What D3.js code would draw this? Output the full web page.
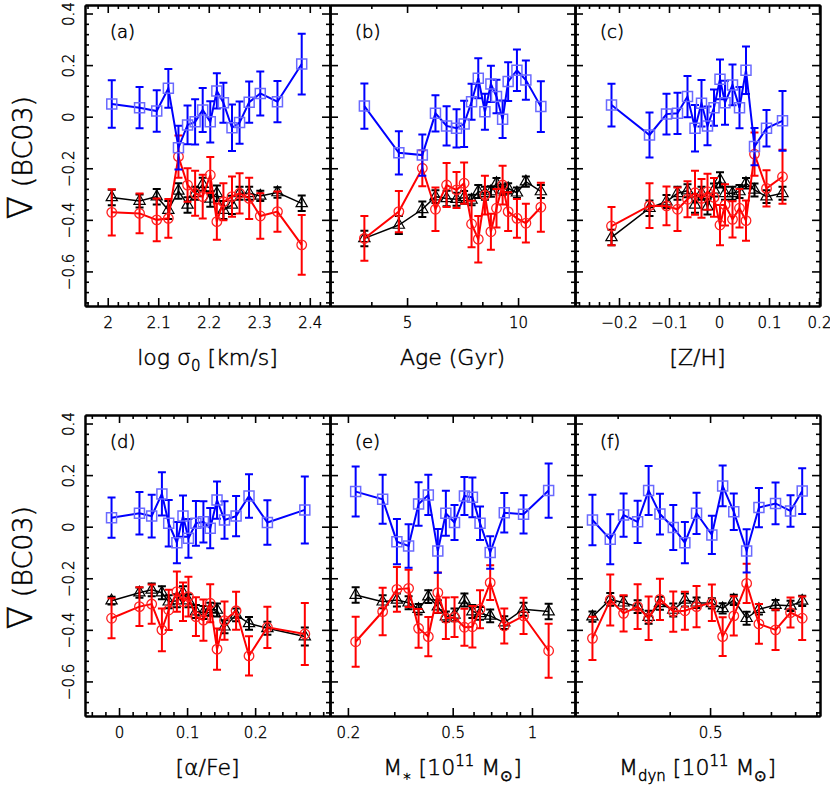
<!DOCTYPE html>
<html>
<head>
<meta charset="utf-8">
<script src="https://cdn.jsdelivr.net/npm/d3@7"></script>
<style>
body { margin: 0; background: #fff; }
svg { display: block; font-family: "DejaVu Sans", sans-serif; font-weight: 200; }
svg text { stroke: #000; stroke-width: 0.5px; }
.axis path { stroke: #000; stroke-width: 2; }
.axis line { stroke: #000; stroke-width: 1.6; }
.axis text { font-size: 15px; fill: #000; font-family: "DejaVu Sans", sans-serif; font-weight: 200; stroke-width: 0.4px; }
</style>
</head>
<body>
<div id="container"></div>
<script>
/* DATA */
// (a) log sigma_0
const aX = [2.008, 2.063, 2.097, 2.120, 2.140, 2.158, 2.173, 2.188, 2.203, 2.216, 2.229, 2.246, 2.261, 2.280, 2.302, 2.336, 2.384]
const aBlue = [0.049, 0.035, 0.022, 0.110, -0.120, -0.032, -0.020, 0.026, -0.020, 0.100, 0.054, -0.043, -0.023, 0.056, 0.090, 0.058, 0.204]
const aBlueErr = [0.092, 0.080, 0.080, 0.075, 0.085, 0.075, 0.088, 0.085, 0.080, 0.068, 0.078, 0.090, 0.082, 0.080, 0.085, 0.080, 0.118]
const aRed = [-0.371, -0.375, -0.400, -0.394, -0.155, -0.265, -0.297, -0.310, -0.226, -0.407, -0.330, -0.310, -0.297, -0.317, -0.385, -0.368, -0.497]
const aRedErr = [0.090, 0.077, 0.083, 0.075, 0.082, 0.065, 0.087, 0.085, 0.070, 0.070, 0.072, 0.078, 0.078, 0.080, 0.088, 0.078, 0.116]
const aBlack = [-0.313, -0.327, -0.310, -0.362, -0.288, -0.342, -0.297, -0.262, -0.319, -0.297, -0.362, -0.342, -0.297, -0.297, -0.307, -0.294, -0.336]
const aBlackErr = [0.03, 0.025, 0.03, 0.035, 0.03, 0.03, 0.025, 0.025, 0.03, 0.03, 0.035, 0.035, 0.025, 0.025, 0.02, 0.02, 0.03]

// (b) Age
const bX = [3.83, 4.75, 5.50, 5.97, 6.40, 6.81, 7.14, 7.48, 7.80, 8.13, 8.44, 8.74, 9.08, 9.40, 9.93, 10.50, 11.53]
const bBlue = [0.041, -0.140, -0.149, 0.013, -0.036, -0.045, -0.028, 0.058, 0.149, 0.019, 0.127, 0.078, -0.010, 0.136, 0.180, 0.142, 0.039]
const bBlueErr = [0.088, 0.084, 0.080, 0.070, 0.076, 0.074, 0.090, 0.070, 0.078, 0.070, 0.070, 0.065, 0.073, 0.075, 0.080, 0.076, 0.098]
const bRed = [-0.472, -0.368, -0.200, -0.359, -0.265, -0.284, -0.258, -0.416, -0.475, -0.304, -0.446, -0.355, -0.265, -0.368, -0.394, -0.413, -0.351]
const bRedErr = [0.087, 0.080, 0.070, 0.084, 0.085, 0.070, 0.080, 0.090, 0.090, 0.075, 0.070, 0.075, 0.075, 0.075, 0.075, 0.075, 0.095]
const bBlack = [-0.472, -0.420, -0.359, -0.310, -0.317, -0.320, -0.313, -0.323, -0.290, -0.297, -0.290, -0.258, -0.284, -0.278, -0.295, -0.252, -0.290]
const bBlackErr = [0.03, 0.035, 0.03, 0.025, 0.03, 0.025, 0.025, 0.02, 0.025, 0.025, 0.02, 0.02, 0.02, 0.02, 0.02, 0.02, 0.025]

// (c) [Z/H]
const cX = [-0.215, -0.139, -0.105, -0.083, -0.063, -0.048, -0.035, -0.023, -0.010, 0.002, 0.012, 0.027, 0.041, 0.054, 0.071, 0.095, 0.127]
const cBlue = [0.045, -0.071, 0.010, 0.013, 0.078, -0.045, 0.052, -0.036, 0.035, 0.145, 0.054, 0.123, 0.035, 0.180, -0.116, -0.045, -0.016]
const cBlueErr = [0.083, 0.087, 0.079, 0.080, 0.080, 0.090, 0.090, 0.075, 0.070, 0.077, 0.085, 0.079, 0.080, 0.092, 0.072, 0.071, 0.116]
const cRed = [-0.424, -0.345, -0.346, -0.359, -0.320, -0.295, -0.317, -0.291, -0.313, -0.420, -0.342, -0.398, -0.355, -0.403, -0.145, -0.278, -0.233]
const cRedErr = [0.074, 0.087, 0.075, 0.084, 0.070, 0.085, 0.075, 0.070, 0.075, 0.078, 0.080, 0.070, 0.075, 0.078, 0.084, 0.070, 0.105]
const cBlack = [-0.468, -0.355, -0.329, -0.297, -0.287, -0.342, -0.297, -0.349, -0.284, -0.245, -0.297, -0.297, -0.290, -0.258, -0.284, -0.310, -0.297]
const cBlackErr = [0.03, 0.03, 0.025, 0.025, 0.025, 0.03, 0.025, 0.03, 0.025, 0.03, 0.025, 0.025, 0.025, 0.02, 0.025, 0.025, 0.025]

// (d) [alpha/Fe]
const dX = [-0.011, 0.030, 0.048, 0.063, 0.073, 0.085, 0.094, 0.102, 0.113, 0.124, 0.134, 0.144, 0.155, 0.172, 0.191, 0.218, 0.273]
const dBlue = [0.035, 0.052, 0.041, 0.127, 0.013, -0.062, 0.041, -0.045, 0.013, 0.019, -0.006, 0.103, 0.026, 0.041, 0.119, 0.016, 0.065]
const dBlueErr = [0.078, 0.082, 0.083, 0.084, 0.090, 0.080, 0.080, 0.075, 0.087, 0.080, 0.078, 0.072, 0.073, 0.078, 0.084, 0.086, 0.130]
const dRed = [-0.355, -0.310, -0.300, -0.400, -0.323, -0.252, -0.291, -0.271, -0.349, -0.362, -0.297, -0.475, -0.364, -0.326, -0.501, -0.390, -0.416]
const dRedErr = [0.078, 0.075, 0.076, 0.083, 0.078, 0.078, 0.075, 0.077, 0.075, 0.080, 0.074, 0.080, 0.074, 0.074, 0.076, 0.080, 0.120]
const dBlack = [-0.287, -0.256, -0.245, -0.256, -0.291, -0.287, -0.256, -0.287, -0.329, -0.333, -0.320, -0.323, -0.388, -0.342, -0.375, -0.394, -0.426]
const dBlackErr = [0.015, 0.02, 0.025, 0.025, 0.025, 0.025, 0.025, 0.025, 0.025, 0.025, 0.025, 0.025, 0.025, 0.025, 0.025, 0.025, 0.035]

// (e) M_star
const eX = [0.214, 0.271, 0.307, 0.340, 0.371, 0.404, 0.439, 0.471, 0.508, 0.554, 0.594, 0.635, 0.694, 0.785, 0.929, 1.157]
const eBlue = [0.136, 0.106, -0.058, -0.075, 0.088, 0.123, -0.094, 0.052, 0.016, 0.119, 0.114, 0.013, -0.100, 0.054, 0.048, 0.140]
const eBlueErr = [0.097, 0.095, 0.088, 0.084, 0.084, 0.078, 0.085, 0.087, 0.068, 0.074, 0.077, 0.065, 0.063, 0.077, 0.074, 0.105]
const eRed = [-0.446, -0.329, -0.243, -0.239, -0.394, -0.426, -0.256, -0.355, -0.351, -0.390, -0.388, -0.320, -0.217, -0.385, -0.346, -0.481]
const eRedErr = [0.097, 0.092, 0.087, 0.072, 0.075, 0.076, 0.078, 0.080, 0.077, 0.072, 0.080, 0.074, 0.067, 0.068, 0.070, 0.105]
const eBlack = [-0.265, -0.291, -0.284, -0.295, -0.320, -0.271, -0.310, -0.349, -0.342, -0.284, -0.329, -0.336, -0.346, -0.372, -0.320, -0.329]
const eBlackErr = [0.03, 0.025, 0.025, 0.025, 0.02, 0.025, 0.025, 0.02, 0.025, 0.025, 0.025, 0.025, 0.025, 0.025, 0.025, 0.03]

// (f) M_dyn
const fX = [0.261, 0.288, 0.310, 0.335, 0.356, 0.379, 0.408, 0.435, 0.464, 0.505, 0.536, 0.570, 0.612, 0.655, 0.718, 0.780, 0.832]
const fBlue = [0.026, -0.049, 0.045, 0.019, 0.140, 0.049, -0.003, -0.062, 0.052, -0.032, 0.158, 0.058, -0.094, 0.074, 0.090, 0.061, 0.138]
const fBlueErr = [0.098, 0.097, 0.084, 0.082, 0.095, 0.079, 0.087, 0.080, 0.080, 0.074, 0.079, 0.071, 0.084, 0.076, 0.081, 0.061, 0.089]
const fRed = [-0.433, -0.284, -0.336, -0.310, -0.355, -0.282, -0.329, -0.326, -0.310, -0.295, -0.426, -0.346, -0.220, -0.377, -0.400, -0.333, -0.355]
const fRedErr = [0.084, 0.099, 0.070, 0.087, 0.084, 0.080, 0.078, 0.074, 0.080, 0.071, 0.075, 0.076, 0.076, 0.077, 0.078, 0.058, 0.084]
const fBlack = [-0.349, -0.282, -0.295, -0.310, -0.351, -0.297, -0.323, -0.284, -0.295, -0.297, -0.317, -0.284, -0.355, -0.320, -0.304, -0.307, -0.288]
const fBlackErr = [0.02, 0.025, 0.025, 0.025, 0.025, 0.025, 0.025, 0.025, 0.02, 0.02, 0.02, 0.02, 0.025, 0.02, 0.02, 0.02, 0.02]

// tick labels
const yMajor = [-0.6, -0.4, -0.2, 0, 0.2, 0.4]
const aTicks = [2, 2.1, 2.2, 2.3, 2.4]
const bTicks = [5, 10]
const cTicks = [-0.2, -0.1, 0, 0.1, 0.2]
const dTicks = [0, 0.1, 0.2]
const eTicks = [0.2, 0.5, 1]
const fTicks = [0.5]

/* CONSTANTS */
const width = 830, height = 795
const W = 245, H = 301
const colX = [85, 330, 575], rowY = [5, 415]

const svg = d3.select("#container")
    .append("svg")
    .attr("width", width)
    .attr("height", height)

const y = d3.scaleLinear().domain([-0.734, 0.433]).range([H, 0])
const yMinor = d3.range(-18, 12).filter(i => i % 5 !== 0).map(i => i * 0.04)
    .filter(v => v >= -0.734 && v <= 0.433)

const step = (lo, hi, s, majors) => d3.range(Math.round(lo / s), Math.round(hi / s) + 1)
    .map(i => i * s).filter(v => !majors.some(m => Math.abs(m - v) < 1e-6))

// "2", "2.1", "0", "−0.2"
const fmt1 = d => Math.abs(d) < 1e-9 ? "0" : d3.format(".1~f")(d)
const logMinor = [0.3, 0.4, 0.6, 0.7, 0.8, 0.9]

const panels = [
    { label: "(a)", col: 0, row: 0, x: d3.scaleLinear().domain([1.955, 2.44]),
      xs: aX, blue: [aBlue, aBlueErr], red: [aRed, aRedErr], black: [aBlack, aBlackErr],
      major: aTicks, minor: step(1.96, 2.44, 0.02, aTicks), fmt: fmt1,
      title: [["log σ", 0], ["0", 1], [" [km/s]", 0]] },
    { label: "(b)", col: 1, row: 0, x: d3.scaleLog().domain([3.09, 14.27]),
      xs: bX, blue: [bBlue, bBlueErr], red: [bRed, bRedErr], black: [bBlack, bBlackErr],
      major: bTicks, minor: [4, 6, 7, 8, 9], fmt: d3.format("d"),
      title: [["Age (Gyr)", 0]] },
    { label: "(c)", col: 2, row: 0, x: d3.scaleLinear().domain([-0.288, 0.202]),
      xs: cX, blue: [cBlue, cBlueErr], red: [cRed, cRedErr], black: [cBlack, cBlackErr],
      major: cTicks, minor: step(-0.28, 0.2, 0.02, cTicks), fmt: fmt1,
      title: [["[Z/H]", 0]] },
    { label: "(d)", col: 0, row: 1, x: d3.scaleLinear().domain([-0.05, 0.31]),
      xs: dX, blue: [dBlue, dBlueErr], red: [dRed, dRedErr], black: [dBlack, dBlackErr],
      major: dTicks, minor: step(-0.04, 0.3, 0.02, dTicks), fmt: fmt1,
      title: [["[α/Fe]", 0]] },
    { label: "(e)", col: 1, row: 1, x: d3.scaleLog().domain([0.171, 1.457]),
      xs: eX, blue: [eBlue, eBlueErr], red: [eRed, eRedErr], black: [eBlack, eBlackErr],
      major: eTicks, minor: logMinor, fmt: fmt1,
      title: [["M", 0], ["∗", 1], [" [10", 0], ["11", 2], [" M", 0], ["⊙", 1], ["]", 0]] },
    { label: "(f)", col: 2, row: 1, x: d3.scaleLog().domain([0.237, 0.918]),
      xs: fX, blue: [fBlue, fBlueErr], red: [fRed, fRedErr], black: [fBlack, fBlackErr],
      major: fTicks, minor: logMinor, fmt: fmt1,
      title: [["M", 0], ["dyn", 1], [" [10", 0], ["11", 2], [" M", 0], ["⊙", 1], ["]", 0]] }
]

const styles = {
    black: { color: "#000", lw: 1.5, ew: 2, sym: d3.symbolTriangle, size: 55, mark: "#000", mw: 1.2 },
    red: { color: "#ff0000", lw: 2, ew: 2, sym: d3.symbolCircle, size: 72, mark: "#ff2020", mw: 1.3 },
    blue: { color: "#0000ff", lw: 2, ew: 2, sym: d3.symbolSquare, size: 100, mark: "#6a6aff", mw: 1.5 }
}

function drawSeries(g, x, xs, [vals, errs], st) {
    const cap = 4
    g.append("g").selectAll("path").data(vals).join("path")
        .attr("d", (d, i) => {
            const px = x(xs[i]), y1 = y(d + errs[i]), y2 = y(d - errs[i])
            return `M${px - cap},${y1}H${px + cap}M${px},${y1}V${y2}M${px - cap},${y2}H${px + cap}`
        })
        .attr("stroke", st.color)
        .attr("stroke-width", st.ew)
        .attr("fill", "none")

    const line = d3.line().x((d, i) => x(xs[i])).y(d => y(d))
    g.append("path").datum(vals)
        .attr("d", line)
        .attr("stroke", st.color)
        .attr("stroke-width", st.lw)
        .attr("fill", "none")

    g.append("g").selectAll("path").data(vals).join("path")
        .attr("transform", (d, i) => `translate(${x(xs[i])},${y(d)})`)
        .attr("d", d3.symbol(st.sym, st.size))
        .attr("fill", "none")
        .attr("stroke", st.mark)
        .attr("stroke-width", st.mw)
}

panels.forEach(p => {
    const x = p.x.range([0, W])
    const g = svg.append("g").attr("transform", `translate(${colX[p.col]},${rowY[p.row]})`)

    // SERIES
    drawSeries(g, x, p.xs, p.black, styles.black)
    drawSeries(g, x, p.xs, p.red, styles.red)
    drawSeries(g, x, p.xs, p.blue, styles.blue)

    // AXES (ticks inward on all four sides)
    g.append("g").attr("class", "axis").attr("transform", `translate(0,${H})`)
        .call(d3.axisBottom(x).tickValues(p.minor).tickSize(-4).tickSizeOuter(0).tickFormat(""))
    g.append("g").attr("class", "axis").attr("transform", `translate(0,${H})`)
        .call(d3.axisBottom(x).tickValues(p.major).tickSize(-8).tickSizeOuter(0).tickPadding(11).tickFormat(p.fmt))
    g.append("g").attr("class", "axis")
        .call(d3.axisTop(x).tickValues(p.minor).tickSize(-4).tickSizeOuter(0).tickFormat(""))
    g.append("g").attr("class", "axis")
        .call(d3.axisTop(x).tickValues(p.major).tickSize(-8).tickSizeOuter(0).tickFormat(""))

    g.append("g").attr("class", "axis")
        .call(d3.axisLeft(y).tickValues(yMinor).tickSize(-4).tickSizeOuter(0).tickFormat(""))
    const yl = g.append("g").attr("class", "axis")
        .call(d3.axisLeft(y).tickValues(yMajor).tickSize(-8).tickSizeOuter(0).tickFormat(p.col === 0 ? fmt1 : ""))
    yl.selectAll("text")
        .attr("transform", "rotate(-90)")
        .attr("x", 0)
        .attr("y", -11)
        .attr("dy", 0)
        .style("text-anchor", "middle")
    g.append("g").attr("class", "axis").attr("transform", `translate(${W},0)`)
        .call(d3.axisRight(y).tickValues(yMinor).tickSize(-4).tickSizeOuter(0).tickFormat(""))
    g.append("g").attr("class", "axis").attr("transform", `translate(${W},0)`)
        .call(d3.axisRight(y).tickValues(yMajor).tickSize(-8).tickSizeOuter(0).tickFormat(""))

    // LABELS
    g.append("text")
        .attr("x", 25)
        .attr("y", 33)
        .style("font-size", "18px")
        .text(p.label)

    const t = g.append("text")
        .attr("x", W / 2)
        .attr("y", H + 59)
        .attr("text-anchor", "middle")
        .style("font-size", "22px")
    let prev = 0
    p.title.forEach(([s, k]) => {
        const shift = k === 1 ? 6 : k === 2 ? -9 : 0
        t.append("tspan")
            .attr("dy", shift - prev)
            .style("font-size", k ? "15px" : "22px")
            .text(s)
        prev = shift
    })

    if (p.col === 0) {
        const yt = svg.append("text")
            .attr("transform", `translate(32,${rowY[p.row] + H / 2 + 2}) rotate(-90)`)
            .attr("text-anchor", "middle")
            .style("font-size", "27px")
        yt.append("tspan").style("font-size", "34px").text("∇")
        yt.append("tspan").text(" (BC03)")
    }
})
</script>
</body>
</html>
